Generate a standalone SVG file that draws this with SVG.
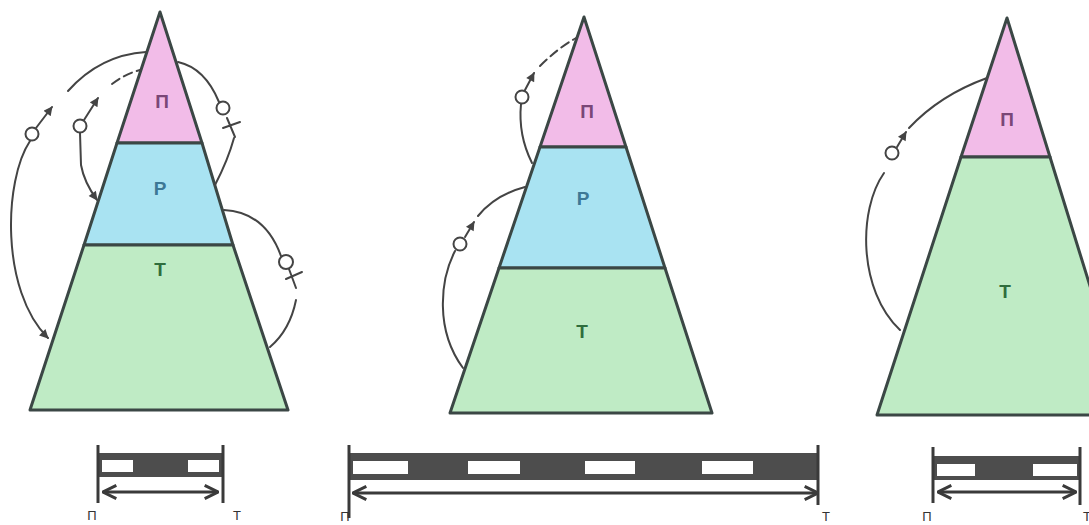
<svg xmlns="http://www.w3.org/2000/svg" width="1089" height="525" viewBox="0 0 1089 525">
<style>
.lvl{stroke:#3b4745;stroke-width:3;stroke-linejoin:round}
.pi{fill:#f2bce8}.re{fill:#a9e3f2}.te{fill:#bfebc5}
.lab{font-family:"Liberation Sans",Arial,sans-serif;font-weight:bold;font-size:19px;text-anchor:middle}
.lp{fill:#7a4777}.lr{fill:#3d7895}.lt{fill:#2f6d3d}
.con{fill:none;stroke:#444;stroke-width:2;stroke-linecap:round}
.dash{stroke-dasharray:9 5}
.ind{fill:#fff;stroke:#444;stroke-width:2}
.bar{fill:#4d4d4d}
.win{fill:#fff}
.edge{stroke:#3a3a3a;stroke-width:3}
.span{fill:none;stroke:#3a3a3a;stroke-width:3}
.small{font-family:"Liberation Sans",Arial,sans-serif;font-size:13px;fill:#333;text-anchor:middle}
</style>
<defs>
<marker id="ah" viewBox="0 0 10 10" refX="9" refY="5" markerUnits="userSpaceOnUse" markerWidth="11" markerHeight="9" orient="auto"><path d="M0,0 L10,5 L0,10 Z" fill="#444"/></marker>
<marker id="open" viewBox="0 0 12 12" refX="11" refY="6" markerUnits="userSpaceOnUse" markerWidth="16" markerHeight="20" orient="auto-start-reverse"><path d="M1,1 L11,6 L1,11" fill="none" stroke="#3a3a3a" stroke-width="2.2"/></marker>
</defs>
<rect width="1089" height="525" fill="#fff"/>

<g id="pyramid-1">
<polygon class="lvl pi" points="160,12 202,143 117,143"/>
<polygon class="lvl re" points="117,143 202,143 233,245 84,245"/>
<polygon class="lvl te" points="84,245 233,245 288,410 30,410"/>
<text class="lab lp" x="162" y="108">П</text>
<text class="lab lr" x="160" y="195">Р</text>
<text class="lab lt" x="160" y="276">Т</text>
</g>

<g id="pyramid-2">
<polygon class="lvl pi" points="584,17 626,147 540,147"/>
<polygon class="lvl re" points="540,147 626,147 665,268 499,268"/>
<polygon class="lvl te" points="499,268 665,268 712,413 450,413"/>
<text class="lab lp" x="587" y="118">П</text>
<text class="lab lr" x="583" y="205">Р</text>
<text class="lab lt" x="582" y="338">Т</text>
</g>

<g id="pyramid-3">
<polygon class="lvl pi" points="1007,18 1050,157 961,157"/>
<polygon class="lvl te" points="961,157 1050,157 1130,415 877,415"/>
<text class="lab lp" x="1007" y="126">П</text>
<text class="lab lt" x="1005" y="298">Т</text>
</g>

<g id="connectors">
<!-- pyramid 1 -->
<path class="con" d="M36,128 L52,107" marker-end="url(#ah)"/>
<path class="con" d="M68,91 Q100,55 146,52"/>
<path class="con" d="M30,141 C4,180 0,290 48,338" marker-end="url(#ah)"/>
<path class="con" d="M84,120 L98,98" marker-end="url(#ah)"/>
<path class="con dash" d="M112,84 Q125,74 140,70"/>
<path class="con" d="M80,133 L81,165 Q84,182 97,200" marker-end="url(#ah)"/>
<path class="con" d="M178,62 Q205,68 219,102"/>
<path class="con" d="M227,118 L235,137 M223,128 L240,122"/>
<path class="con" d="M234,138 Q228,160 215,185"/>
<path class="con" d="M224,210 Q265,212 281,256"/>
<path class="con" d="M289,269 L296,288 M286,279 L302,272"/>
<path class="con" d="M296,300 Q290,330 270,347"/>
<!-- pyramid 2 -->
<path class="con" d="M525,90 L534,73" marker-end="url(#ah)"/>
<path class="con dash" d="M540,66 Q558,48 576,38"/>
<path class="con" d="M521,104 Q518,135 532,163"/>
<path class="con" d="M465,237 L474,222" marker-end="url(#ah)"/>
<path class="con" d="M478,216 Q495,195 525,187"/>
<path class="con" d="M455,251 C440,280 435,330 463,368"/>
<!-- pyramid 3 -->
<path class="con" d="M897,147 L906,132" marker-end="url(#ah)"/>
<path class="con" d="M909,128 Q940,95 987,78"/>
<path class="con" d="M884,173 C858,210 858,290 900,330"/>
</g>

<g id="individuals">
<circle class="ind" cx="32" cy="134" r="6.5"/>
<circle class="ind" cx="80" cy="126" r="6.5"/>
<circle class="ind" cx="223" cy="108" r="6.5"/>
<circle class="ind" cx="286" cy="262" r="7"/>
<circle class="ind" cx="522" cy="97" r="6.5"/>
<circle class="ind" cx="460" cy="244" r="6.5"/>
<circle class="ind" cx="892" cy="153" r="6.5"/>
</g>

<g id="bar-1">
<rect class="bar" x="98" y="453" width="125" height="24"/>
<rect class="win" x="102" y="460" width="31" height="12"/>
<rect class="win" x="188" y="460" width="31" height="12"/>
<line class="edge" x1="98" y1="445" x2="98" y2="503"/>
<line class="edge" x1="223" y1="445" x2="223" y2="503"/>
<line class="span" x1="103" y1="492" x2="218" y2="492" marker-start="url(#open)" marker-end="url(#open)"/>
<text class="small" x="92" y="520">П</text>
<text class="small" x="237" y="520">Т</text>
</g>

<g id="bar-2">
<rect class="bar" x="349" y="453" width="469" height="27"/>
<rect class="win" x="353" y="461" width="55" height="13"/>
<rect class="win" x="468" y="461" width="52" height="13"/>
<rect class="win" x="585" y="461" width="50" height="13"/>
<rect class="win" x="702" y="461" width="51" height="13"/>
<line class="edge" x1="349" y1="445" x2="349" y2="518"/>
<line class="edge" x1="818" y1="445" x2="818" y2="505"/>
<line class="span" x1="353" y1="493" x2="818" y2="493" marker-start="url(#open)" marker-end="url(#open)"/>
<text class="small" x="345" y="521">П</text>
<text class="small" x="826" y="521">Т</text>
</g>

<g id="bar-3">
<rect class="bar" x="933" y="456" width="147" height="24"/>
<rect class="win" x="937" y="464" width="38" height="12"/>
<rect class="win" x="1033" y="464" width="44" height="12"/>
<line class="edge" x1="933" y1="447" x2="933" y2="503"/>
<line class="edge" x1="1080" y1="447" x2="1080" y2="505"/>
<line class="span" x1="938" y1="492" x2="1076" y2="492" marker-start="url(#open)" marker-end="url(#open)"/>
<text class="small" x="927" y="521">П</text>
<text class="small" x="1087" y="521">Т</text>
</g>
</svg>
